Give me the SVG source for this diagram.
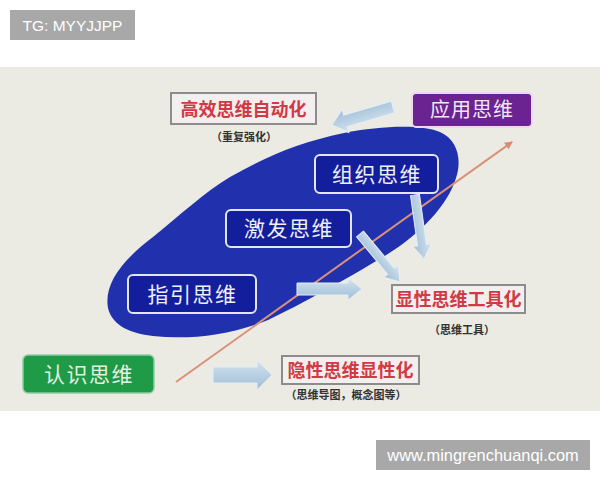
<svg xmlns="http://www.w3.org/2000/svg" width="600" height="480" viewBox="0 0 600 480">
<defs>
<linearGradient id="bl" x1="0" y1="0" x2="0" y2="1">
<stop offset="0" stop-color="#d3e3ef"/>
<stop offset="1" stop-color="#9fbdd6"/>
</linearGradient>
<marker id="ah" markerWidth="8" markerHeight="8" refX="7" refY="4" orient="auto" markerUnits="userSpaceOnUse">
<path d="M0,0 L8,4 L0,8 Z" fill="#d98d74"/>
</marker>
</defs>
<style>
.cjk{font-family:"Noto Sans CJK SC","Noto Sans",sans-serif;}
.lat{font-family:"Liberation Sans",Arial,sans-serif;fill:#ffffff;}
.inner rect{fill:#131e9c;stroke:#e3e6f6;stroke-width:2;}
.inner text{fill:#eef0fa;font-size:21px;letter-spacing:1.5px;}
.red rect{fill:#f2efee;stroke:#8d8b8b;stroke-width:2;}
.red text.t{fill:#d13a45;font-size:18px;font-weight:bold;}
.sub{fill:#333;font-size:11px;font-weight:bold;}
.barr{fill:url(#bl);stroke:#e6eef5;stroke-width:1;}
</style>
<rect x="0" y="0" width="600" height="480" fill="#ffffff"/>
<rect x="0" y="67" width="600" height="344" fill="#ebeae3"/>
<g id="wm-top">
<rect x="10" y="10" width="125" height="30" fill="#a8a8a8"/>
<text class="lat" x="72.5" y="31" font-size="15.5" text-anchor="middle">TG: MYYJJPP</text>
</g>
<g id="wm-bottom">
<rect x="376" y="440" width="214" height="30" fill="#a8a8a8"/>
<text class="lat" x="483" y="461" font-size="16.4" text-anchor="middle">www.mingrenchuanqi.com</text>
</g>
<g id="ellipse">
<path d="M108,308 C104,285 120,262 153,237 C180,215 205,192 230,177 C265,157 300,142 344,133 C380,126 420,124 440,132 C458,140 462,160 456,178 C448,205 420,235 383,257 C350,277 300,305 268,320 C230,335 190,340 153,336 C125,333 111,322 108,308 Z" fill="#2131ae"/>
</g>
<g id="gaoxiao" class="red">
<rect x="171" y="93" width="145" height="31"/>
<text class="cjk t" x="243.5" y="115.5" text-anchor="middle">高效思维自动化</text>
<text class="cjk sub" x="244" y="141" text-anchor="middle">（重复强化）</text>
</g>
<g id="yingyong">
<rect x="412" y="93" width="120" height="34" rx="4" fill="#6b2391" stroke="#ecd9f0" stroke-width="2"/>
<text class="cjk" x="472" y="117" font-size="20" fill="#f0e6f4" text-anchor="middle" letter-spacing="1">应用思维</text>
</g>
<g id="zuzhi" class="inner">
<rect x="315" y="155" width="123" height="38" rx="5"/>
<text class="cjk" x="377" y="181.5" text-anchor="middle">组织思维</text>
</g>
<g id="jifa" class="inner">
<rect x="226" y="210" width="125" height="37" rx="5"/>
<text class="cjk" x="289" y="236" text-anchor="middle">激发思维</text>
</g>
<g id="zhiyin" class="inner">
<rect x="128" y="275" width="128" height="38" rx="5"/>
<text class="cjk" x="192.5" y="301.5" text-anchor="middle">指引思维</text>
</g>
<g id="renshi">
<rect x="23" y="355" width="131" height="38" rx="5" fill="#1f9a46" stroke="#8fcca3" stroke-width="1.5"/>
<text class="cjk" x="89" y="381.5" font-size="21" fill="#e2f2e4" text-anchor="middle" letter-spacing="1.5">认识思维</text>
</g>
<g id="xianxing" class="red">
<rect x="392" y="285" width="133" height="28"/>
<text class="cjk t" x="458.5" y="305.5" text-anchor="middle">显性思维工具化</text>
<text class="cjk sub" x="462" y="334" text-anchor="middle">（思维工具）</text>
</g>
<g id="yinxing" class="red">
<rect x="282" y="356" width="137" height="28"/>
<text class="cjk t" x="350.5" y="376.5" text-anchor="middle">隐性思维显性化</text>
<text class="cjk sub" x="346" y="399" text-anchor="middle">（思维导图，概念图等）</text>
</g>
<g id="connectors">
<line x1="176" y1="382" x2="512" y2="142" stroke="#da9078" stroke-width="2" marker-end="url(#ah)"/>
<path class="barr" transform="translate(393,107) rotate(163.6)" d="M0,-6 L49.6,-6 L49.6,-12 L63.6,0 L49.6,12 L49.6,6 L0,6 Z"/>
<path class="barr" transform="translate(415,195) rotate(82)" d="M0,-4.5 L50.6,-4.5 L50.6,-9.5 L64.6,0 L50.6,9.5 L50.6,4.5 L0,4.5 Z"/>
<path class="barr" transform="translate(360,234) rotate(50.2)" d="M0,-4.5 L48.5,-4.5 L48.5,-9.5 L62.5,0 L48.5,9.5 L48.5,4.5 L0,4.5 Z"/>
<path class="barr" transform="translate(297,289)" d="M0,-6 L51,-6 L51,-11 L65,0 L51,11 L51,6 L0,6 Z"/>
<path class="barr" transform="translate(213,375)" d="M0,-8 L44,-8 L44,-15 L59,0 L44,15 L44,8 L0,8 Z"/>
</g>
</svg>
